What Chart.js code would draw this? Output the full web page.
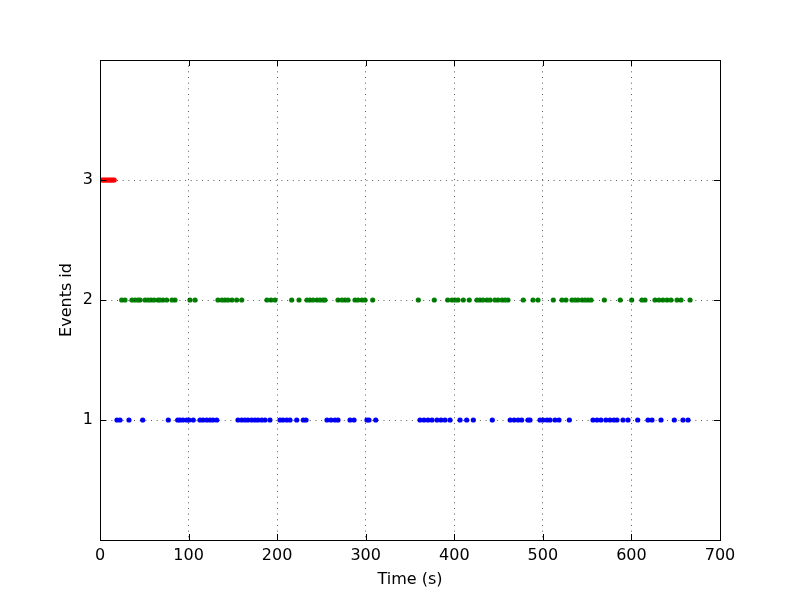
<!DOCTYPE html>
<html>
<head>
<meta charset="utf-8">
<script src="https://cdn.jsdelivr.net/npm/chart.js@4"></script>
<style>
  html, body { margin: 0; padding: 0; background: #fff; }
  #wrap { width: 800px; height: 600px; }
</style>
</head>
<body>
<div id="wrap"><canvas id="chart" width="800" height="600"></canvas></div>
<script>
// event ids and the times (s) at which each one fired
const eventIds = [1, 2, 3];
const eventColors = ['#0000ff', '#008000', '#ff0000'];

const times1 = [19.2, 22.6, 32.7, 48.2, 77.1, 87.7, 90.3, 93.7, 97.9, 100.5, 105.3, 112.9, 116.3,
  120.5, 124.2, 127.6, 131.8, 155.8, 160, 163.7, 167.1, 171.3, 175, 178.4, 182.6, 186.3, 191.9,
  203.2, 206.6, 210.8, 214.5, 222.1, 229.5, 232.6, 256.3, 260.8, 265.3, 268.7, 282.3, 286.8,
  301.4, 303.7, 311.3, 361.3, 365.8, 370.3, 374.8, 380.5, 385, 389.5, 395.2, 406.5, 414, 421.5,
  442.9, 463.1, 467.6, 472.1, 476.1, 483.2, 485.5, 496.8, 500.2, 504.7, 508.1, 513.7, 518.2,
  529.9, 556.6, 561.1, 565.6, 571.2, 575.8, 580.3, 583.7, 590.5, 596.1, 607.1, 618.7, 623.2,
  633.4, 648.4, 658.2, 663.9];

const times2 = [24.5, 28.2, 36.1, 39.5, 42.9, 45.2, 50.8, 54.2, 57.6, 61, 65.5, 67.7, 71.1, 75.3,
  81.3, 84.7, 101.6, 107.3, 133.2, 137.7, 141.1, 144.5, 149, 154.3, 160, 188.5, 193.1, 197.6,
  216.4, 224.7, 233.7, 237.1, 240.5, 245, 248.4, 251.8, 254, 268.7, 273.2, 276.6, 280, 287.9,
  291.3, 295.8, 299.2, 307.9, 359.4, 377.4, 392.6, 397.4, 400.8, 404.2, 410.2, 416.9, 425.6,
  429, 432.4, 436.9, 440.3, 445.9, 449.4, 453.9, 457.3, 460.6, 477.9, 488.9, 494.5, 511.8,
  521.6, 526.1, 532.9, 536.3, 539.7, 544.2, 547.6, 551, 554.4, 569.4, 587.4, 600.3, 611.9,
  615.3, 626.6, 631.1, 635.6, 640.2, 644.7, 651.5, 656, 666.2];

const times3 = [2, 3.8, 5.5, 7.3, 9, 10.8, 12.5, 14.3, 16];

const allTimes = [times1, times2, times3];
const xTicks = [0, 100, 200, 300, 400, 500, 600, 700];
const yTicks = [1, 2, 3];

const FONT = { family: 'DejaVu Sans', size: 16 };

const datasets = eventIds.map((id, i) => ({
  label: 'Event ' + id,
  data: allTimes[i].map(t => ({ x: t, y: id })),
  backgroundColor: eventColors[i],
  borderWidth: 0,
  pointRadius: 2.6,
  pointHoverRadius: 2.6,
}));

// frame + inward ticks on all four sides, like matplotlib classic
const framePlugin = {
  id: 'frame',
  afterDraw(chart) {
    const { ctx, chartArea: a, scales } = chart;
    ctx.save();
    ctx.strokeStyle = '#000';
    ctx.lineWidth = 1;
    ctx.beginPath();
    xTicks.forEach(v => {
      const px = Math.round(scales.x.getPixelForValue(v)) + 0.5;
      ctx.moveTo(px, a.bottom); ctx.lineTo(px, a.bottom - 6);
      ctx.moveTo(px, a.top); ctx.lineTo(px, a.top + 6);
    });
    yTicks.forEach(v => {
      const py = Math.round(scales.y.getPixelForValue(v)) + 0.5;
      ctx.moveTo(a.left, py); ctx.lineTo(a.left + 6, py);
      ctx.moveTo(a.right, py); ctx.lineTo(a.right - 6, py);
    });
    ctx.stroke();
    ctx.strokeRect(Math.round(a.left) + 0.5, Math.round(a.top) + 0.5,
      Math.round(a.right - a.left), Math.round(a.bottom - a.top));
    ctx.restore();
  }
};

const gridColor = 'rgba(0,0,0,0.65)';

new Chart(document.getElementById('chart'), {
  type: 'scatter',
  data: { datasets },
  options: {
    responsive: false,
    animation: false,
    events: [],
    layout: { padding: { left: 0, top: 60, right: 80, bottom: 0 } },
    plugins: { legend: { display: false }, tooltip: { enabled: false } },
    scales: {
      x: {
        type: 'linear',
        min: 0,
        max: 700,
        afterBuildTicks: s => { s.ticks = xTicks.map(v => ({ value: v })); },
        afterFit: s => { s.height = 60; },
        grid: { color: gridColor, lineWidth: 1, drawTicks: false, z: 1 },
        border: { display: false, dash: [1, 4.67] },
        ticks: { color: '#000', font: FONT, padding: 6, maxRotation: 0 },
        title: { display: true, text: 'Time (s)', color: '#000', font: FONT, padding: { top: 11, bottom: 11 } }
      },
      y: {
        type: 'linear',
        min: 0,
        max: 4,
        afterBuildTicks: s => { s.ticks = yTicks.map(v => ({ value: v })); },
        afterFit: s => { s.width = 100; },
        grid: { color: gridColor, lineWidth: 1, drawTicks: false, z: 1 },
        border: { display: false, dash: [1, 4.67] },
        ticks: { color: '#000', font: FONT, padding: 7 },
        title: { display: true, text: 'Events id', color: '#000', font: FONT, padding: { top: 57, bottom: 0 } }
      }
    }
  },
  plugins: [framePlugin]
});
</script>
</body>
</html>
